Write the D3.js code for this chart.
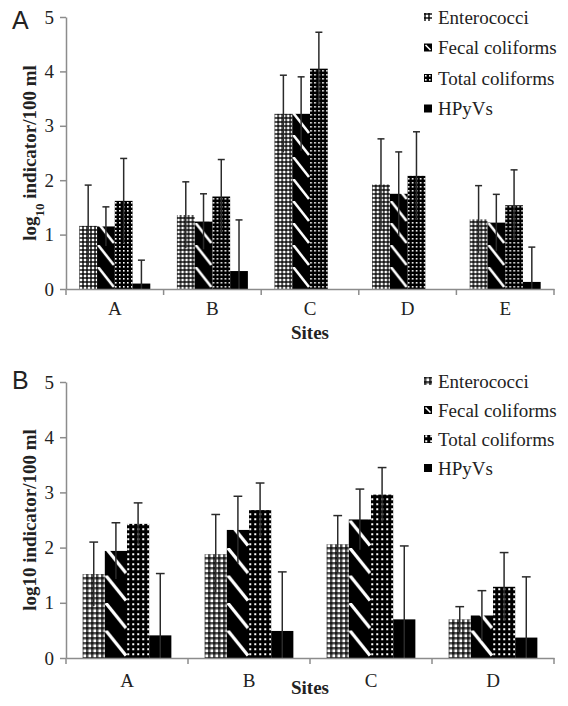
<!DOCTYPE html>
<html>
<head>
<meta charset="utf-8">
<script src="https://cdn.jsdelivr.net/npm/d3@7"></script>
<style>
body { margin: 0; background: #fff; }
text { font-family: "Liberation Serif", "Times New Roman", serif; fill: #222; }
</style>
</head>
<body>
<script>
// series + sites
var seriesNames = ["Enterococci", "Fecal coliforms", "Total coliforms", "HPyVs"];
var sitesTop = ["A", "B", "C", "D", "E"];
var sitesBottom = ["A", "B", "C", "D"];
var yTicks = [0, 1, 2, 3, 4, 5];

// panel A means and error (log10 / 100 ml)
var entTop = [1.16, 1.36, 3.22, 1.92, 1.28];
var fecTop = [1.15, 1.24, 3.22, 1.75, 1.22];
var totTop = [1.62, 1.70, 4.05, 2.08, 1.54];
var hpyTop = [0.10, 0.33, 0, 0, 0.13];
var entTopErr = [0.75, 0.61, 0.71, 0.84, 0.62];
var fecTopErr = [0.36, 0.51, 0.68, 0.77, 0.52];
var totTopErr = [0.78, 0.68, 0.67, 0.81, 0.65];
var hpyTopErr = [0.43, 0.94, 0, 0, 0.64];

// panel B
var entBot = [1.52, 1.88, 2.06, 0.70];
var fecBot = [1.94, 2.32, 2.51, 0.77];
var totBot = [2.43, 2.68, 2.96, 1.29];
var hpyBot = [0.41, 0.49, 0.70, 0.37];
var entBotErr = [0.58, 0.72, 0.52, 0.23];
var fecBotErr = [0.51, 0.61, 0.55, 0.45];
var totBotErr = [0.38, 0.49, 0.49, 0.62];
var hpyBotErr = [1.12, 1.07, 1.33, 1.10];

var svg = d3.select("body").append("svg")
    .attr("width", 568)
    .attr("height", 706);
var defs = svg.append("defs");

var axisGrey = "#8c8c8c";

function buildRows(sites, vals, errs) {
    return sites.map(function(s, i) {
        return {
            site: s,
            bars: seriesNames.map(function(n, k) {
                return {series: n, value: vals[k][i], err: errs[k][i]};
            })
        };
    });
}

function drawPanel(opt) {
    var W = opt.width, H = opt.height, s = opt.scale;
    var g = svg.append("g")
        .attr("transform", "translate(" + opt.left + "," + opt.top + ")");

    var x0 = d3.scaleBand().domain(opt.sites).range([0, W]).padding(0);
    var x1 = d3.scaleBand().domain(seriesNames).range([0, x0.step()])
        .paddingInner(0).paddingOuter(0.75);
    var y = d3.scaleLinear().domain([0, 5]).range([H, 0]);
    var bw = x1.bandwidth();

    // fill patterns
    var id = opt.id;
    var ging = defs.append("pattern").attr("id", "ging" + id)
        .attr("patternUnits", "userSpaceOnUse")
        .attr("width", 4 * s).attr("height", 4 * s);
    ging.append("rect").attr("width", 4 * s).attr("height", 4 * s).attr("fill", "#fff");
    ging.append("rect").attr("width", 2 * s).attr("height", 4 * s).attr("fill", "#000").attr("opacity", 0.68);
    ging.append("rect").attr("width", 4 * s).attr("height", 2 * s).attr("fill", "#000").attr("opacity", 0.68);

    var dots = defs.append("pattern").attr("id", "dots" + id)
        .attr("patternUnits", "userSpaceOnUse")
        .attr("width", 4 * s).attr("height", 4 * s);
    dots.append("rect").attr("width", 4 * s).attr("height", 4 * s).attr("fill", "#000");
    dots.append("rect").attr("x", 1 * s).attr("y", 1 * s)
        .attr("width", 1.6 * s).attr("height", 1.6 * s).attr("fill", "#fff");

    // one diagonal stripe per site band, lined up with the fecal bar
    var fx = x1("Fecal coliforms");
    var sh = 22 * s;
    var stripe = defs.append("pattern").attr("id", "stripe" + id)
        .attr("patternUnits", "userSpaceOnUse")
        .attr("x", 0).attr("y", H)
        .attr("width", x0.step()).attr("height", sh);
    stripe.append("rect").attr("width", x0.step()).attr("height", sh).attr("fill", "#000");
    stripe.append("line")
        .attr("x1", fx + 1).attr("y1", 0)
        .attr("x2", fx + bw - 1).attr("y2", sh - 2 * s)
        .attr("stroke", "#fff").attr("stroke-width", 2.6 * s);

    var fills = {
        "Enterococci": "url(#ging" + id + ")",
        "Fecal coliforms": "url(#stripe" + id + ")",
        "Total coliforms": "url(#dots" + id + ")",
        "HPyVs": "#000"
    };

    var rows = buildRows(opt.sites, opt.values, opt.errors);

    var groups = g.selectAll(".site")
        .data(rows)
        .enter().append("g")
        .attr("class", "site")
        .attr("transform", function(d) { return "translate(" + x0(d.site) + ",0)"; });

    groups.selectAll("rect")
        .data(function(d) { return d.bars.filter(function(b) { return b.value > 0; }); })
        .enter().append("rect")
        .attr("x", function(d) { return x1(d.series); })
        .attr("y", function(d) { return y(d.value); })
        .attr("width", bw)
        .attr("height", function(d) { return H - y(d.value); })
        .attr("fill", function(d) { return fills[d.series]; });

    // error bars, cap on top only
    var eb = groups.selectAll(".err")
        .data(function(d) { return d.bars.filter(function(b) { return b.err > 0; }); })
        .enter().append("g")
        .attr("class", "err")
        .attr("stroke", "#2a2a2a")
        .attr("stroke-width", 1.5);
    eb.append("line")
        .attr("x1", function(d) { return x1(d.series) + bw / 2; })
        .attr("x2", function(d) { return x1(d.series) + bw / 2; })
        .attr("y1", function(d) { return y(Math.max(0, d.value - d.err)); })
        .attr("y2", function(d) { return y(d.value + d.err); });
    eb.append("line")
        .attr("x1", function(d) { return x1(d.series) + bw / 2 - 3.5 * s; })
        .attr("x2", function(d) { return x1(d.series) + bw / 2 + 3.5 * s; })
        .attr("y1", function(d) { return y(d.value + d.err); })
        .attr("y2", function(d) { return y(d.value + d.err); });

    // y axis
    var ya = g.append("g")
        .call(d3.axisLeft(y).tickValues(yTicks).tickSize(6).tickSizeOuter(0).tickPadding(6)
            .tickFormat(d3.format("d")));
    ya.attr("font-family", null).attr("font-size", null);
    ya.selectAll("path, line").attr("stroke", axisGrey).attr("stroke-width", 1.5);
    ya.selectAll("text").style("font-size", "19px").attr("fill", "#222");

    // x axis with ticks on the band edges
    var xa = g.append("g")
        .attr("transform", "translate(0," + H + ")")
        .call(d3.axisBottom(x0).tickSize(0).tickSizeOuter(0).tickPadding(opt.labelPad));
    xa.attr("font-family", null).attr("font-size", null);
    xa.select(".domain").attr("stroke", axisGrey).attr("stroke-width", 1.5);
    xa.selectAll("text").style("font-size", "19px").attr("fill", "#222");
    xa.selectAll(".edge")
        .data(d3.range(opt.sites.length + 1))
        .enter().append("line")
        .attr("class", "edge")
        .attr("x1", function(i) { return i * x0.step(); })
        .attr("x2", function(i) { return i * x0.step(); })
        .attr("y1", 0).attr("y2", 6)
        .attr("stroke", axisGrey).attr("stroke-width", 1.5);

    // axis titles
    g.append("text")
        .attr("x", W / 2)
        .attr("y", H + opt.titlePad)
        .attr("text-anchor", "middle")
        .style("font-size", "19px")
        .style("font-weight", "bold")
        .text("Sites");

    var yl = g.append("text")
        .attr("transform", "translate(" + (-opt.left + 36) + "," + (H / 2) + ") rotate(-90)")
        .attr("text-anchor", "middle")
        .style("font-size", "19px")
        .style("font-weight", "bold");
    if (opt.subscript) {
        yl.append("tspan").text("log");
        yl.append("tspan").attr("baseline-shift", "sub").style("font-size", "13px").text("10");
        yl.append("tspan").text(" indicator/100 ml");
    } else {
        yl.text("log10 indicator/100 ml");
    }

    // panel letter
    svg.append("text")
        .attr("x", 12)
        .attr("y", opt.top + opt.letterDy)
        .style("font-family", "'Liberation Sans', Arial, sans-serif")
        .style("font-size", "25px")
        .text(opt.letter);

    // legend
    var lg = svg.append("g")
        .attr("transform", "translate(424," + opt.legendTop + ")");
    var item = lg.selectAll(".item")
        .data(seriesNames)
        .enter().append("g")
        .attr("transform", function(d, i) { return "translate(0," + i * opt.legendGap + ")"; });
    item.append("rect")
        .attr("y", -4).attr("width", 8).attr("height", 8)
        .attr("fill", function(d) {
            if (d === "Fecal coliforms") return "#000";
            return fills[d];
        });
    item.filter(function(d) { return d === "Fecal coliforms"; })
        .append("line")
        .attr("x1", 1.5).attr("y1", -2.5).attr("x2", 6.5).attr("y2", 2.5)
        .attr("stroke", "#fff").attr("stroke-width", 1.6);
    item.append("text")
        .attr("x", 14)
        .attr("dy", "0.35em")
        .style("font-size", "19px")
        .text(function(d) { return d; });
}

drawPanel({
    id: "A", letter: "A", sites: sitesTop,
    values: [entTop, fecTop, totTop, hpyTop],
    errors: [entTopErr, fecTopErr, totTopErr, hpyTopErr],
    left: 66, top: 17, width: 488, height: 272, scale: 1,
    labelPad: 13, titlePad: 50, letterDy: 12, subscript: true,
    legendTop: 17, legendGap: 30.5
});

drawPanel({
    id: "B", letter: "B", sites: sitesBottom,
    values: [entBot, fecBot, totBot, hpyBot],
    errors: [entBotErr, fecBotErr, totBotErr, hpyBotErr],
    left: 66, top: 382, width: 488, height: 276, scale: 1.25,
    labelPad: 16, titlePad: 36, letterDy: 7, subscript: false,
    legendTop: 381, legendGap: 29
});
</script>
</body>
</html>
